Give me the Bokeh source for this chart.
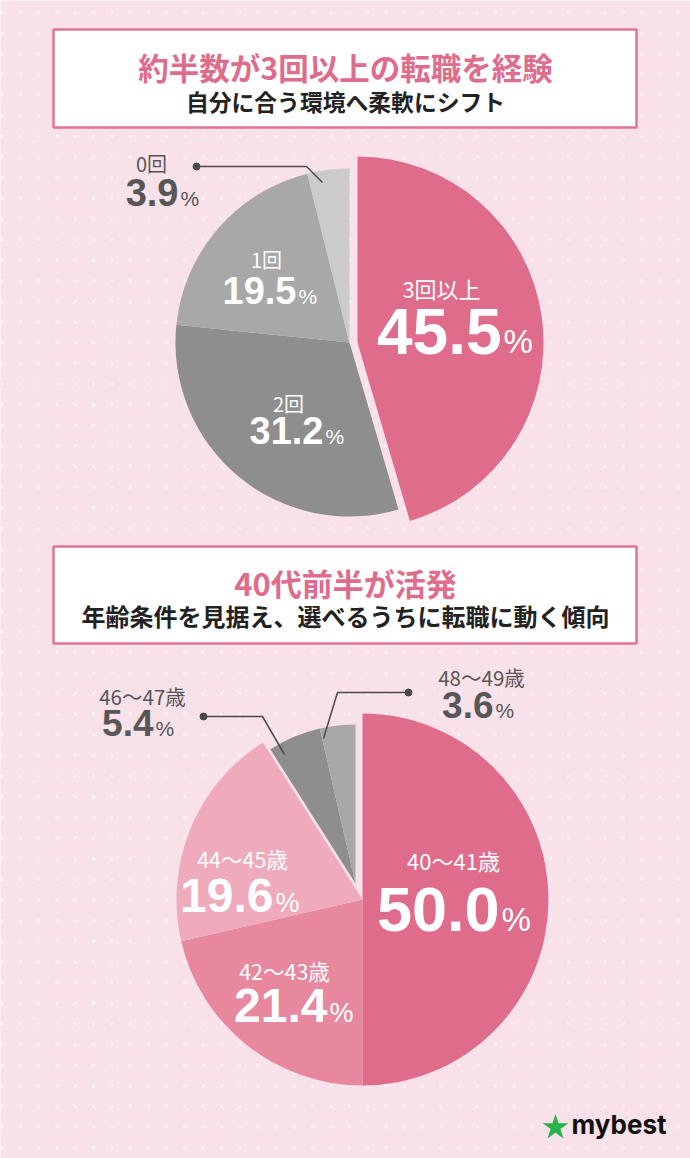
import numpy as np
from bokeh.plotting import figure
from bokeh.models import Range1d, ColumnDataSource
from bokeh.core.properties import value
from bokeh.embed import file_html
from bokeh.resources import INLINE

W, H = 690, 1158

# ---------------- data ----------------
title1 = "約半数が3回以上の転職を経験"
sub1 = "自分に合う環境へ柔軟にシフト"
cats1 = ["3回以上", "2回", "1回", "0回"]
vals1 = [45.5, 31.2, 19.5, 3.9]

title2 = "40代前半が活発"
sub2 = "年齢条件を見据え、選べるうちに転職に動く傾向"
cats2 = ["40～41歳", "42～43歳", "44～45歳", "46～47歳", "48～49歳"]
vals2 = [50.0, 21.4, 19.6, 5.4, 3.6]

brand = "mybest"

# ---------------- style ----------------
BG = "#F9E1E9"
DOT = "#FDF0F4"
PINK = "#E06C8C"
BORDER = "#E07491"
DARK = "#222222"
LBL = "#575757"
JP = value("Noto Sans CJK JP")
NUM = value("Liberation Sans")

colors1 = [PINK, "#8E8E8E", "#A8A8A8", "#CBCBCB"]
colors2 = [PINK, "#E8889F", "#EFAABB", "#8E8E8E", "#A8A8A8"]


def Y(v):
    return H - v


p = figure(width=W, height=H, x_range=Range1d(0, W), y_range=Range1d(0, H),
           output_backend="svg", toolbar_location=None,
           x_axis_type=None, y_axis_type=None, min_border=0,
           background_fill_color=BG, border_fill_color=BG,
           outline_line_color=None)
p.grid.grid_line_color = None

# dotted background
gx, gy = np.meshgrid(np.arange(1.7, W, 18.27), np.arange(12, H, 20.64))
p.rect(x=gx.ravel(), y=Y(gy.ravel()), width=3, height=3,
       fill_color=DOT, line_color=None)

# title boxes
for (top, bot) in [(29, 127), (546, 643)]:
    p.quad(left=[53], right=[636], top=[Y(top)], bottom=[Y(bot)],
           fill_color="white", line_color=BORDER, line_width=2.5)


def jtext(x, y, t, size, color, bold=True, align="center"):
    p.text(x=[x], y=[Y(y)], text=[t], text_align=align, text_baseline="middle",
           text_font=JP, text_font_size=f"{size}px",
           text_font_style="bold" if bold else "normal", text_color=color)


jtext(345, 66, title1, 30.5, PINK)
jtext(345, 101, sub1, 22.8, DARK)
jtext(345, 582, title2, 31, PINK)
jtext(345, 615, sub2, 24, DARK)


def pie(vals, colors, cx, cy, offsets, radii):
    fr = np.array(vals, dtype=float) / sum(vals)
    cum = np.concatenate([[0.0], np.cumsum(fr)]) * 2 * np.pi
    start_cw, end_cw = cum[:-1], cum[1:]
    src = ColumnDataSource(dict(
        x=[cx + o[0] for o in offsets],
        y=[Y(cy + o[1]) for o in offsets],
        r=radii,
        s=list(np.pi / 2 - end_cw),
        e=list(np.pi / 2 - start_cw),
        c=colors,
    ))
    p.wedge(x="x", y="y", radius="r", start_angle="s", end_angle="e",
            fill_color="c", line_color=None, source=src)


pie(vals1, colors1, 349, 342, [(8, 0), (0, 0), (0, 0), (0, 0)], [186, 174, 174, 174])
pie(vals2, colors2, 362, 899, [(0, 0), (0, 0), (0, 0), (-7, -16), (-7, -16)],
    [186, 186, 186, 159, 159])


def pct(xr, ybase, v, size, psize, color):
    # ybase = baseline in picture coords; place by cap centre with "middle"
    p.text(x=[xr], y=[Y(ybase - 0.35 * size)], text=[f"{v:.1f}"], text_align="right",
           text_baseline="middle", text_font=NUM, text_font_style="bold",
           text_font_size=f"{size}px", text_color=color)
    p.text(x=[xr + 2], y=[Y(ybase - 0.35 * psize)], text=["%"], text_align="left",
           text_baseline="middle", text_font=NUM, text_font_style="normal",
           text_font_size=f"{psize}px", text_color=color)


def leader(pts):
    xs = [q[0] for q in pts]
    ys = [Y(q[1]) for q in pts]
    p.line(xs, ys, line_color="#4A4A4A", line_width=1.5)
    p.scatter([xs[0]], [ys[0]], size=7, color="#4A4A4A")


# pie 1 labels
jtext(441, 287, cats1[0], 22, "white", bold=False)
pct(501, 353, vals1[0], 64, 33, "white")
jtext(288, 403, cats1[1], 20, "white", bold=False)
pct(323, 443, vals1[1], 38, 21, "white")
jtext(266, 259, cats1[2], 20, "white", bold=False)
pct(296, 303, vals1[2], 38, 21, "white")
jtext(151, 163, cats1[3], 20, LBL, bold=False)
pct(178, 205, vals1[3], 38, 21, LBL)
leader([(196, 166), (306, 166), (322, 182)])

# pie 2 labels
jtext(453, 859, cats2[0], 22, "white", bold=False)
pct(499, 931, vals2[0], 63, 33, "white")
jtext(284, 970, cats2[1], 21.5, "white", bold=False)
pct(327, 1022, vals2[1], 48, 27, "white")
jtext(242, 858, cats2[2], 21.5, "white", bold=False)
pct(273, 912, vals2[2], 48, 27, "white")
jtext(142, 695, cats2[3], 20.5, LBL, bold=False)
pct(153, 735, vals2[3], 37, 21, LBL)
leader([(203, 716), (262, 716), (284, 754)])
jtext(481, 676, cats2[4], 20.5, LBL, bold=False)
pct(493, 717, vals2[4], 37, 21, LBL)
leader([(408, 692), (337, 692), (323, 738)])

# brand
p.scatter([555], [Y(1127)], marker="star", size=27, color="#27B24A", line_color=None)
p.text(x=[571], y=[Y(1124)], text=[brand], text_align="left", text_baseline="middle",
       text_font=value("Inter"), text_font_style="bold", text_font_size="26px",
       text_color="#111111")

open("out.html", "w").write(file_html(p, INLINE))
